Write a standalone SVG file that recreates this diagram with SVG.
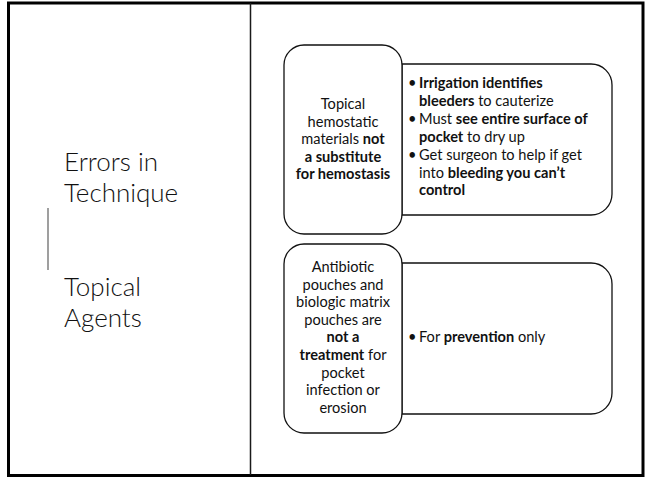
<svg xmlns="http://www.w3.org/2000/svg" width="649" height="478" viewBox="0 0 649 478">
  <style>
    .frame { fill: #ffffff; stroke: #000000; stroke-width: 3; }
    .divider { stroke: #1a1a1a; stroke-width: 1.5; }
    .accent { stroke: #7f7f7f; stroke-width: 1.5; }
    .box { fill: #ffffff; stroke: #111111; stroke-width: 1.3; }
    .title { font-family: Lato, "Liberation Sans", sans-serif; font-weight: 300; font-size: 26px; fill: #111111; }
    .body { font-family: Lato, "Liberation Sans", sans-serif; font-size: 14.6px; fill: #111111; }
    .mid { text-anchor: middle; }
    .b { font-weight: bold; }
  </style>

  <!-- slide frame and column divider -->
  <rect class="frame" x="8.5" y="3" width="634.5" height="472.5"/>
  <line class="divider" x1="250.5" y1="3" x2="250.5" y2="475"/>

  <!-- section titles -->
  <g id="titles">
    <text class="title" x="64" y="171">Errors in</text>
    <text class="title" x="64" y="202">Technique</text>
    <line class="accent" x1="48" y1="208" x2="48" y2="270"/>
    <text class="title" x="64" y="296">Topical</text>
    <text class="title" x="64" y="327">Agents</text>
  </g>

  <!-- detail panels (drawn first so the label boxes sit on top) -->
  <g id="detail-hemostasis">
    <path class="box" d="M402,64 H591 A21,21 0 0 1 612,85 V194 A21,21 0 0 1 591,215 H402 Z"/>
    <text class="body" x="408" y="88">•</text>
    <text class="body b" x="419" y="88">Irrigation identifies</text>
    <text class="body" x="419" y="106"><tspan class="b">bleeders</tspan> to cauterize</text>
    <text class="body" x="408" y="124">•</text>
    <text class="body" x="419" y="124">Must <tspan class="b">see entire surface of</tspan></text>
    <text class="body" x="419" y="142"><tspan class="b">pocket</tspan> to dry up</text>
    <text class="body" x="408" y="160">•</text>
    <text class="body" x="419" y="160">Get surgeon to help if get</text>
    <text class="body" x="419" y="177.6">into <tspan class="b">bleeding you can’t</tspan></text>
    <text class="body b" x="419" y="195.2">control</text>
  </g>

  <g id="detail-pouches">
    <path class="box" d="M402,263 H591 A21,21 0 0 1 612,284 V393 A21,21 0 0 1 591,414 H402 Z"/>
    <text class="body" x="408" y="342">•</text>
    <text class="body" x="419" y="342">For <tspan class="b">prevention</tspan> only</text>
  </g>

  <!-- label boxes -->
  <g id="label-hemostasis">
    <rect class="box" x="284" y="45" width="118" height="189" rx="20" ry="20"/>
    <text class="body mid" x="343" y="109">Topical</text>
    <text class="body mid" x="343" y="126.6">hemostatic</text>
    <text class="body mid" x="343" y="144.2">materials <tspan class="b">not</tspan></text>
    <text class="body mid b" x="343" y="161.8">a substitute</text>
    <text class="body mid b" x="343" y="179.4">for hemostasis</text>
  </g>

  <g id="label-pouches">
    <rect class="box" x="284" y="244" width="118" height="189" rx="20" ry="20"/>
    <text class="body mid" x="343" y="272">Antibiotic</text>
    <text class="body mid" x="343" y="289.6">pouches and</text>
    <text class="body mid" x="343" y="307.2">biologic matrix</text>
    <text class="body mid" x="343" y="324.8">pouches are</text>
    <text class="body mid b" x="343" y="342.4">not a</text>
    <text class="body mid" x="343" y="360"><tspan class="b">treatment</tspan> for</text>
    <text class="body mid" x="343" y="377.6">pocket</text>
    <text class="body mid" x="343" y="395.2">infection or</text>
    <text class="body mid" x="343" y="412.8">erosion</text>
  </g>
</svg>
